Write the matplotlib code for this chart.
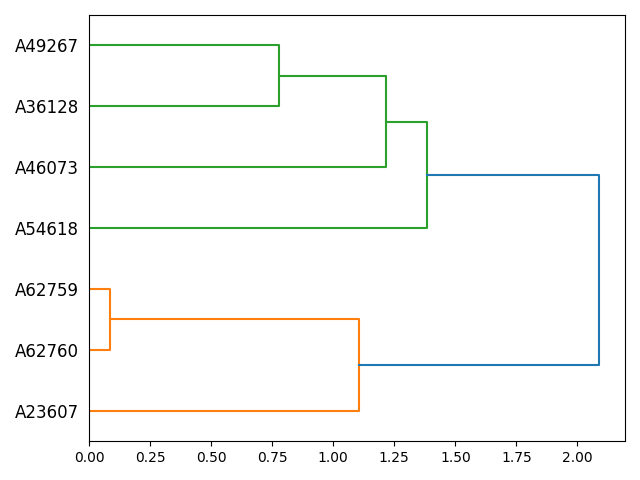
import numpy as np
import matplotlib
matplotlib.use("Agg")
import matplotlib.pyplot as plt

# leaves, bottom to top
labels = ["A23607", "A62760", "A62759", "A54618", "A46073", "A36128", "A49267"]

# merges: (child a, child b, height, colour); children index leaves 0..6,
# then new clusters 7, 8, ... in order of creation
merges = [
    (1, 2, 0.085, "C1"),
    (0, 7, 1.105, "C1"),
    (5, 6, 0.78, "C2"),
    (4, 9, 1.215, "C2"),
    (3, 10, 1.385, "C2"),
    (8, 11, 2.09, "C0"),
]

pos = {i: 5 + 10 * i for i in range(len(labels))}
dist = {i: 0.0 for i in range(len(labels))}

fig, ax = plt.subplots(figsize=(6.4, 4.8), dpi=100)

for k, (a, b, h, c) in enumerate(merges):
    new = len(labels) + k
    xs = [dist[a], h, h, dist[b]]
    ys = [pos[a], pos[a], pos[b], pos[b]]
    ax.plot(xs, ys, color=c, linewidth=1.5)
    pos[new] = (pos[a] + pos[b]) / 2
    dist[new] = h

ax.set_ylim(0, 10 * len(labels))
ax.set_xlim(0, max(m[2] for m in merges) * 1.05)
ax.set_yticks([pos[i] for i in range(len(labels))])
ax.set_yticklabels(labels, fontsize=12)
# hide tick marks but keep their spacing
for line in ax.get_yticklines():
    line.set_visible(False)
ax.xaxis.set_major_formatter(matplotlib.ticker.FormatStrFormatter("%.2f"))

fig.tight_layout()
fig.savefig("out.png")
